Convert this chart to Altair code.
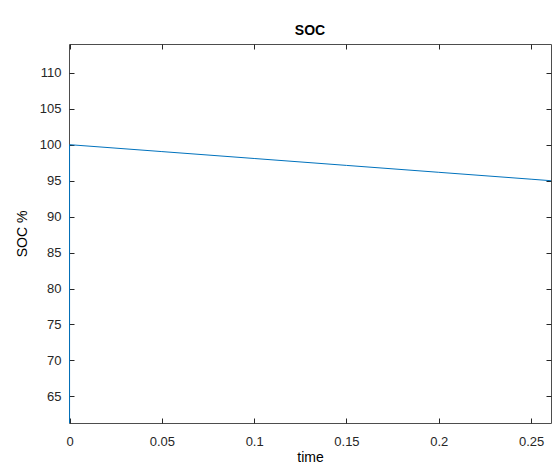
import altair as alt
import pandas as pd

# data
time = [0.0, 0.0, 0.05, 0.10, 0.15, 0.20, 0.25, 0.2608]
soc = [0.0, 100.0, 99.04, 98.08, 97.12, 96.16, 95.2, 94.99]
x_ticks = [0, 0.05, 0.1, 0.15, 0.2, 0.25]
y_ticks = [65, 70, 75, 80, 85, 90, 95, 100, 105, 110]

df = pd.DataFrame({"time": time, "soc": soc, "order": list(range(len(time)))})

FONT = "Liberation Sans"
GREY = "#262626"

xscale = alt.Scale(domain=[-0.0003, 0.2608], nice=False, zero=False)
yscale = alt.Scale(domain=[61.3, 114], nice=False, zero=False)

common_axis = dict(
    grid=False, domain=False, tickSize=5, tickColor=GREY, tickWidth=1,
    labelFont=FONT, labelFontSize=13, labelColor=GREY,
    titleFont=FONT, titleFontSize=14, titleColor="#000000", titleFontWeight="normal",
    offset=-5,
)

main = alt.Chart(df).mark_line(color="#0072BD", strokeWidth=1, clip=True).encode(
    x=alt.X("time:Q", scale=xscale,
            axis=alt.Axis(orient="bottom", values=x_ticks, title="time",
                          labelPadding=12, titlePadding=2, labelFlush=False,
                          labelOverlap=False, format="~g", **common_axis)),
    y=alt.Y("soc:Q", scale=yscale,
            axis=alt.Axis(orient="left", values=y_ticks, title="SOC %",
                          labelPadding=8, titlePadding=10, format="~g",
                          labelOverlap=False, **common_axis)),
    order="order:Q",
)

box_axis = dict(grid=False, domain=False, tickSize=5, tickColor=GREY, tickWidth=1,
                labels=False, title=None, offset=-5)

frame = alt.Chart(df).mark_point(opacity=0).encode(
    x=alt.X("time:Q", scale=xscale,
            axis=alt.Axis(orient="top", values=x_ticks, **box_axis)),
    y=alt.Y("soc:Q", scale=yscale,
            axis=alt.Axis(orient="right", values=y_ticks, **box_axis)),
)

chart = alt.layer(main, frame).resolve_axis(x="independent", y="independent").properties(
    width=482,
    height=379,
    autosize=alt.AutoSizeParams(type="none"),
    padding={"left": 69, "top": 44, "right": 5, "bottom": 42},
    title=alt.Title("SOC", font=FONT, fontSize=14, fontWeight="bold", color="#000000",
                    anchor="middle", offset=6),
    background="white",
).configure_view(stroke="#4d4d4d", strokeWidth=1)

chart.save("out.html", embed_options={"renderer": "svg", "actions": False})
